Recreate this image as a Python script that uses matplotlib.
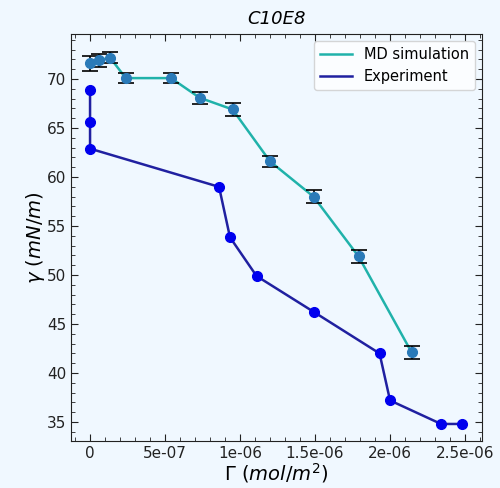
import numpy as np
import matplotlib.pyplot as plt
from matplotlib.ticker import MultipleLocator, FuncFormatter

# MD simulation data (surface excess vs surface tension)
md_gamma = [0.0, 0.06e-6, 0.133e-6, 0.238e-6, 0.54e-6, 0.73e-6, 0.95e-6,
            1.2e-6, 1.49e-6, 1.79e-6, 2.144e-6]
md_tension = [71.6, 71.9, 72.2, 70.1, 70.1, 68.1, 66.9, 61.6, 58.0, 51.9, 42.1]
md_err = [0.8, 0.7, 0.6, 0.55, 0.55, 0.6, 0.63, 0.6, 0.63, 0.63, 0.63]

# Experimental data
exp_gamma = [0.0, 0.0, 0.0, 0.86e-6, 0.933e-6, 1.11e-6, 1.49e-6, 1.93e-6,
             2.0e-6, 2.34e-6, 2.48e-6]
exp_tension = [68.9, 65.6, 62.9, 59.0, 53.85, 49.9, 46.25, 42.0, 37.2, 34.8, 34.8]

bg = '#f0f8ff'
fig = plt.figure(figsize=(5, 4.88), dpi=100, facecolor=bg)
ax = fig.add_axes([0.142, 0.0963, 0.822, 0.834], facecolor=bg)

ax.plot(md_gamma, md_tension, color='lightseagreen', lw=1.8, label='MD simulation', zorder=2)
ax.errorbar(md_gamma, md_tension, yerr=md_err, fmt='o', color='#2a7ab8', ms=7,
            ecolor='black', elinewidth=1.2, capsize=6, capthick=1.2, zorder=3)

ax.plot(exp_gamma, exp_tension, color='#2020a0', lw=1.8, label='Experiment', zorder=2)
ax.plot(exp_gamma, exp_tension, 'o', color='#0000ee', ms=7, zorder=3)

ax.set_xlim(-1.27e-7, 2.613e-6)
ax.set_ylim(33.06, 74.6)

ax.xaxis.set_major_locator(MultipleLocator(5e-7))
ax.xaxis.set_minor_locator(MultipleLocator(1e-7))
ax.yaxis.set_major_locator(MultipleLocator(5))
ax.yaxis.set_minor_locator(MultipleLocator(1))
ax.xaxis.set_major_formatter(FuncFormatter(lambda v, p: '%g' % v))
ax.tick_params(which='both', direction='in', top=True, right=True, labelsize=11,
               color='#222222', labelcolor='#222222')
ax.tick_params(which='major', length=5)
ax.tick_params(which='minor', length=3)
for s in ax.spines.values():
    s.set_color('#222222')

ax.set_title('C10E8', fontsize=13, fontstyle='italic', pad=7)
ax.set_xlabel(r'$\Gamma\ (mol/m^2)$', fontsize=14, labelpad=0)
ax.set_ylabel(r'$\gamma\ (mN/m)$', fontsize=14, labelpad=0)

ax.legend(loc='upper right', fontsize=10.5, handlelength=2.2)

fig.savefig('out.png', dpi=100, facecolor=bg)
